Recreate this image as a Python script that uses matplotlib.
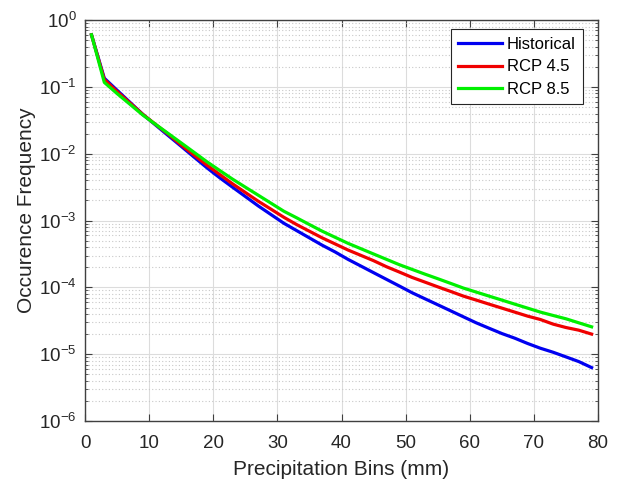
#!/usr/bin/env python3
"""
Occurrence frequency of precipitation bins: historical vs RCP 4.5 / RCP 8.5.
Saves out.png (621x479 px).
"""

import numpy as np
import matplotlib
matplotlib.use("Agg")
import matplotlib.pyplot as plt
from matplotlib.ticker import LogLocator, NullFormatter, MultipleLocator

plt.rcParams["font.family"] = ["Liberation Sans", "DejaVu Sans"]
plt.rcParams["mathtext.fontset"] = "custom"
plt.rcParams["mathtext.rm"] = "Liberation Sans"
plt.rcParams["mathtext.it"] = "Liberation Sans"

# bin centres (mm)
bins = [1, 3, 5, 7, 9, 11, 13, 15, 17, 19,
        21, 23, 25, 27, 29, 31, 33, 35, 37, 39,
        41, 43, 45, 47, 49, 51, 53, 55, 57, 59,
        61, 63, 65, 67, 69, 71, 73, 75, 77, 79]

historical = [0.603, 0.135, 0.0891, 0.0589, 0.0389, 0.0269, 0.0186, 0.0129, 0.00891, 0.00617,
              0.00437, 0.00316, 0.00229, 0.00166, 0.00123, 9.12e-4, 7.08e-4, 5.50e-4, 4.27e-4, 3.39e-4,
              2.63e-4, 2.09e-4, 1.66e-4, 1.32e-4, 1.05e-4, 8.32e-5, 6.76e-5, 5.50e-5, 4.47e-5, 3.63e-5,
              2.95e-5, 2.45e-5, 2.04e-5, 1.74e-5, 1.45e-5, 1.23e-5, 1.07e-5, 9.12e-6, 7.76e-6, 6.31e-6]

rcp45 = [0.603, 0.129, 0.0851, 0.0575, 0.0389, 0.0275, 0.0195, 0.0135, 0.00955, 0.00676,
         0.00490, 0.00355, 0.00263, 0.00195, 0.00148, 0.00112, 8.71e-4, 6.92e-4, 5.50e-4, 4.47e-4,
         3.63e-4, 3.02e-4, 2.51e-4, 2.04e-4, 1.70e-4, 1.41e-4, 1.20e-4, 1.02e-4, 8.71e-5, 7.41e-5,
         6.46e-5, 5.62e-5, 4.90e-5, 4.27e-5, 3.72e-5, 3.31e-5, 2.82e-5, 2.51e-5, 2.29e-5, 2.00e-5]

rcp85 = [0.603, 0.117, 0.0794, 0.0550, 0.0380, 0.0275, 0.0200, 0.0145, 0.0105, 0.00759,
         0.00562, 0.00417, 0.00316, 0.00240, 0.00182, 0.00138, 0.00110, 8.71e-4, 6.92e-4, 5.62e-4,
         4.57e-4, 3.80e-4, 3.16e-4, 2.63e-4, 2.19e-4, 1.86e-4, 1.58e-4, 1.35e-4, 1.15e-4, 9.77e-5,
         8.51e-5, 7.41e-5, 6.46e-5, 5.62e-5, 4.90e-5, 4.27e-5, 3.80e-5, 3.39e-5, 2.95e-5, 2.57e-5]

series_names = ["Historical", "RCP 4.5", "RCP 8.5"]
series_colors = ["#0000f0", "#f00000", "#00f000"]


def main() -> None:
    fig = plt.figure(figsize=(6.21, 4.79), dpi=100)
    ax = fig.add_axes([0.137, 0.121, 0.826, 0.837])

    for vals, name, col in zip([historical, rcp45, rcp85], series_names, series_colors):
        ax.plot(bins, vals, color=col, lw=2.3, label=name)

    ax.set_yscale("log")
    ax.set_xlim(0, 80)
    ax.set_ylim(1e-6, 1)
    ax.xaxis.set_major_locator(MultipleLocator(10))
    ax.yaxis.set_major_locator(LogLocator(base=10, numticks=10))
    ax.yaxis.set_minor_locator(LogLocator(base=10, subs=np.arange(2, 10), numticks=20))
    ax.yaxis.set_minor_formatter(NullFormatter())

    # MATLAB-like grid: solid major, dotted minor
    ax.grid(True, which="major", color="#dcdcdc", lw=0.8, ls="-")
    ax.grid(True, which="minor", axis="y", color="#c8c8c8", lw=0.8, ls=(0, (1, 2)))
    ax.set_axisbelow(True)

    ax.tick_params(which="both", direction="in", top=True, right=True,
                   color="#404040", labelsize=13.5, labelcolor="#262626")
    ax.tick_params(which="major", length=5)
    ax.tick_params(which="minor", length=2.5)
    ax.tick_params(axis="x", pad=10)
    ax.tick_params(axis="y", pad=6)
    for sp in ax.spines.values():
        sp.set_color("#404040")
        sp.set_linewidth(1.0)

    ax.set_xlabel("Precipitation Bins (mm)", fontsize=15, color="#262626", labelpad=6)
    ax.set_ylabel("Occurence Frequency", fontsize=15, color="#262626", labelpad=3)
    ax.yaxis.set_label_coords(-0.096, 0.525)

    leg = ax.legend(loc="upper right", bbox_to_anchor=(0.971, 0.977), borderaxespad=0,
                    fontsize=12, frameon=True, fancybox=False,
                    handlelength=2.6, handletextpad=0.3, borderpad=0.45,
                    labelspacing=0.45)
    leg.get_frame().set_edgecolor("#262626")
    leg.get_frame().set_linewidth(0.8)
    leg.get_frame().set_alpha(1.0)

    fig.savefig("out.png", dpi=100)
    plt.close(fig)


if __name__ == "__main__":
    main()
